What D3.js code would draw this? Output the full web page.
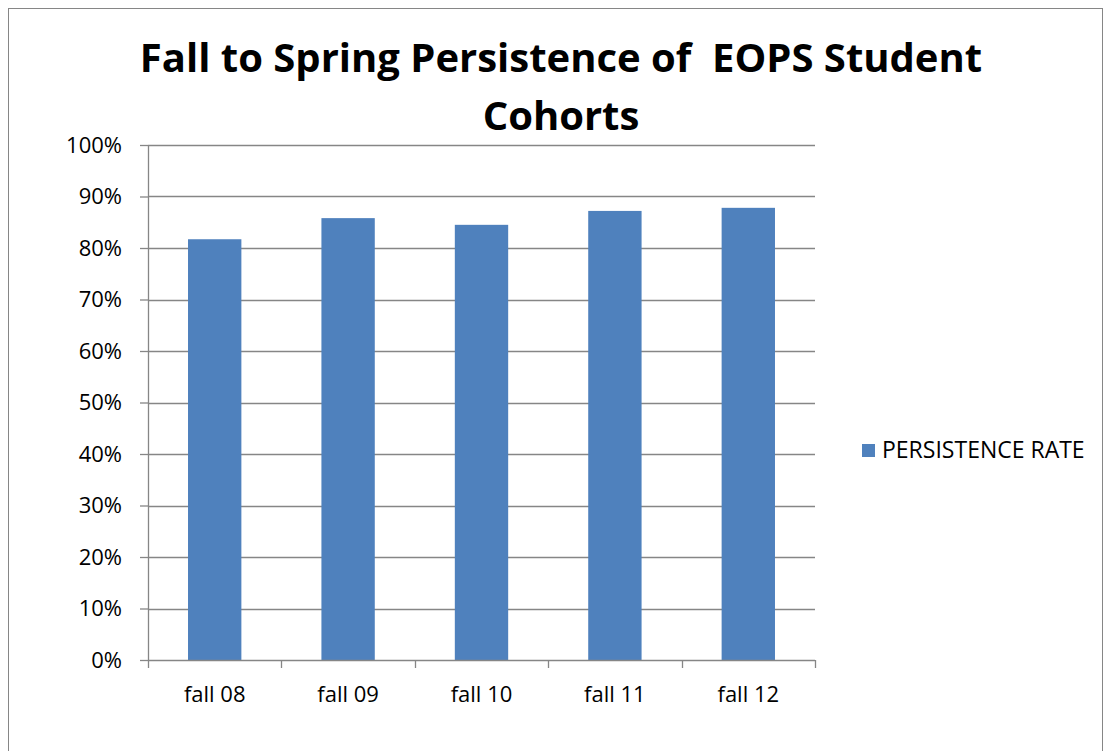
<!DOCTYPE html>
<html>
<head>
<meta charset="utf-8">
<script src="https://cdn.jsdelivr.net/npm/d3@7"></script>
<style>
  body { margin: 0; background: #fff; }
  svg text { font-family: "Open Sans", "Liberation Sans", sans-serif; fill: #000; }
</style>
</head>
<body>
<div id="chart"></div>
<script>
// Data
const cohorts = ["fall 08", "fall 09", "fall 10", "fall 11", "fall 12"];
const persistence = [0.817, 0.858, 0.845, 0.872, 0.878];
const yTicks = [0, 0.1, 0.2, 0.3, 0.4, 0.5, 0.6, 0.7, 0.8, 0.9, 1.0];
const seriesName = "PERSISTENCE RATE";
const titleLines = ["Fall to Spring Persistence of  EOPS Student", "Cohorts"];

const fullWidth = 1103;
const fullHeight = 751;
const margin = { top: 145, left: 148, right: 288, bottom: 91 };
const width = fullWidth - margin.left - margin.right;
const height = fullHeight - margin.top - margin.bottom;

const svg = d3.select("#chart").append("svg")
  .attr("width", fullWidth)
  .attr("height", fullHeight);

// outer chart border
svg.append("rect")
  .attr("x", 8.5).attr("y", 8.5)
  .attr("width", fullWidth - 9).attr("height", fullHeight)
  .attr("fill", "none")
  .attr("stroke", "#868686")
  .attr("stroke-width", 1);

const g = svg.append("g")
  .attr("transform", `translate(${margin.left},${margin.top})`);

// Scales
const x = d3.scaleBand()
  .domain(cohorts)
  .range([0, width])
  .paddingInner(0.6)
  .paddingOuter(0.3);

const xTickBand = d3.scaleBand().domain(cohorts).range([0, width]);

const y = d3.scaleLinear()
  .domain([0, 1])
  .range([height, 0]);

// Gridlines
g.append("g")
  .selectAll("line")
  .data(yTicks.filter(d => d > 0))
  .enter()
  .append("line")
  .attr("x1", 0).attr("x2", width)
  .attr("y1", d => Math.round(y(d)) + 0.5)
  .attr("y2", d => Math.round(y(d)) + 0.5)
  .attr("stroke", "#868686")
  .attr("stroke-width", 1.3);

// Bars
g.selectAll("rect.bar")
  .data(cohorts.map((c, i) => ({ c, v: persistence[i] })))
  .enter()
  .append("rect")
  .attr("class", "bar")
  .attr("x", d => x(d.c))
  .attr("y", d => y(d.v))
  .attr("width", x.bandwidth())
  .attr("height", d => height - y(d.v))
  .attr("fill", "#4F81BD");

// Y axis
const yAxis = g.append("g")
  .call(d3.axisLeft(y).tickValues(yTicks).tickFormat(d3.format(".0%")).tickSize(8).tickPadding(18));
yAxis.selectAll("text").style("font-size", "22px");
yAxis.selectAll("line, path").attr("stroke", "#868686").attr("stroke-width", 1.3);
yAxis.select(".domain").attr("d", `M0.5,0V${height}`);

// X axis (ticks between categories)
const xAxis = g.append("g")
  .attr("transform", `translate(0,${height})`);
xAxis.append("line")
  .attr("x1", 0).attr("x2", width)
  .attr("y1", 0.5).attr("y2", 0.5)
  .attr("stroke", "#868686")
  .attr("stroke-width", 1.3);
xAxis.selectAll("line.tick")
  .data(cohorts.map(c => xTickBand(c)).concat([width]))
  .enter()
  .append("line")
  .attr("class", "tick")
  .attr("x1", d => Math.round(d) + 0.5).attr("x2", d => Math.round(d) + 0.5)
  .attr("y1", 0).attr("y2", 8)
  .attr("stroke", "#868686")
  .attr("stroke-width", 1.3);
xAxis.selectAll("text")
  .data(cohorts)
  .enter()
  .append("text")
  .attr("x", d => xTickBand(d) + xTickBand.bandwidth() / 2)
  .attr("y", 42)
  .attr("text-anchor", "middle")
  .style("font-size", "22px")
  .text(d => d);

// Title
svg.append("g").selectAll("text")
  .data(titleLines)
  .enter()
  .append("text")
  .attr("x", 561)
  .attr("y", (d, i) => 72 + i * 58)
  .attr("text-anchor", "middle")
  .style("font-size", "40px")
  .style("font-weight", "bold")
  .style("white-space", "pre")
  .attr("xml:space", "preserve")
  .text(d => d);

// Legend
const legend = svg.append("g").attr("transform", "translate(862,444)");
legend.append("rect")
  .attr("width", 13).attr("height", 13)
  .attr("fill", "#4F81BD");
legend.append("text")
  .attr("x", 20).attr("y", 14)
  .style("font-size", "23px")
  .text(seriesName);
</script>
</body>
</html>
